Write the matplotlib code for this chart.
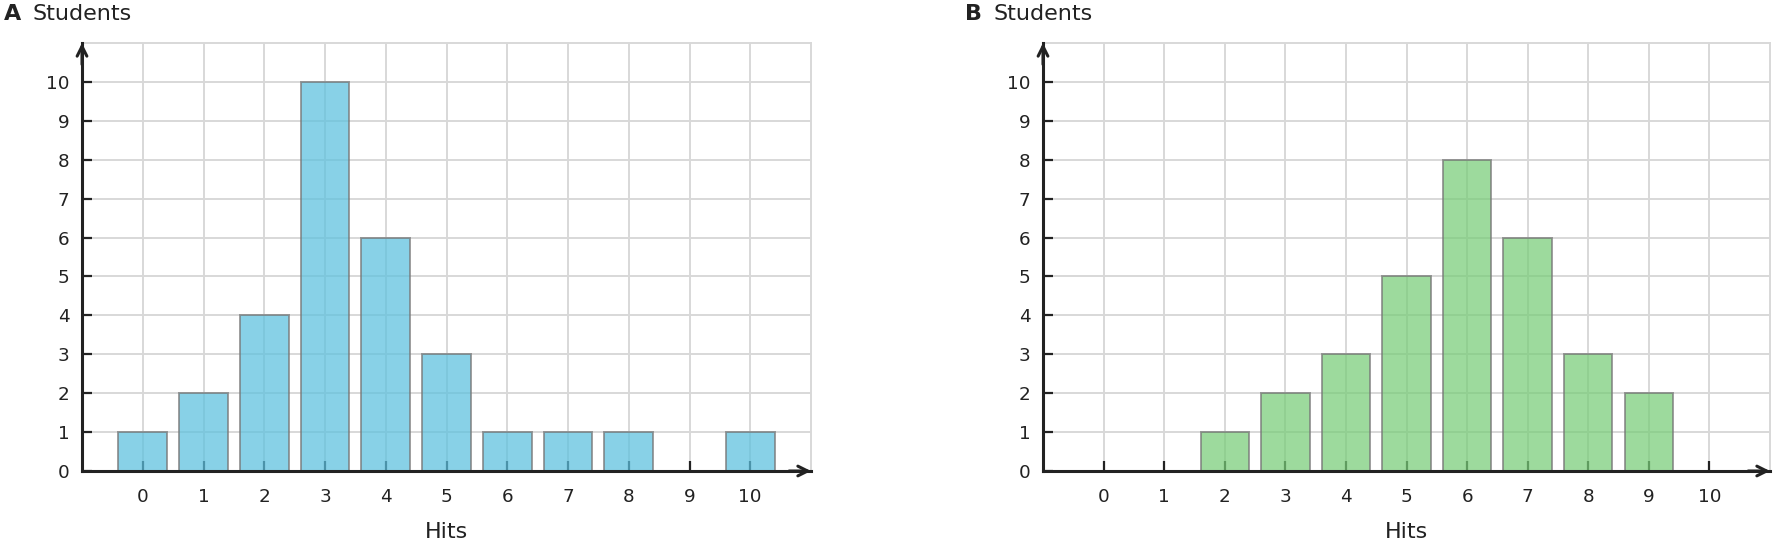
import matplotlib.pyplot as plt

hits = list(range(11))
students_a = [1, 2, 4, 10, 6, 3, 1, 1, 1, 0, 1]
students_b = [0, 0, 1, 2, 3, 5, 8, 6, 3, 2, 0]
y_ticks = list(range(11))

W, H = 1776, 548
fig = plt.figure(figsize=(W / 100, H / 100), dpi=100)

INK = '#222222'


def panel(left_px, right_px, values, color, letter):
    top_px, bottom_px = 43, 471
    ax = fig.add_axes([left_px / W, 1 - bottom_px / H,
                       (right_px - left_px) / W, (bottom_px - top_px) / H])
    ax.set_xlim(-1, 11)
    ax.set_ylim(0, 11)
    ax.set_axisbelow(True)
    ax.grid(True, color='#d8d8d8', linewidth=1.4)
    ax.bar(hits, values, width=0.8, color=color, alpha=0.72,
           edgecolor='#777777', linewidth=1.4, zorder=2)
    ax.set_xticks(hits)
    ax.set_yticks(y_ticks)
    ax.tick_params(axis='both', direction='in', length=7, width=1.6,
                   color=INK, labelsize=13.2, labelcolor=INK)
    ax.tick_params(axis='x', pad=12)
    ax.tick_params(axis='y', pad=9)
    for s in ['top', 'right']:
        ax.spines[s].set_color('#d8d8d8')
        ax.spines[s].set_linewidth(1.4)
    for s in ['left', 'bottom']:
        ax.spines[s].set_color(INK)
        ax.spines[s].set_linewidth(2.2)
        ax.spines[s].set_zorder(3)
    arrow = dict(arrowstyle='->,head_length=0.7,head_width=0.35',
                 color=INK, lw=2.2, shrinkA=0, shrinkB=0)
    ax.annotate('', xy=(1.0, 0), xytext=(0.97, 0), xycoords='axes fraction',
                arrowprops=arrow)
    ax.annotate('', xy=(0, 1.0), xytext=(0, 0.95), xycoords='axes fraction',
                arrowprops=arrow)
    ax.set_xlabel('Hits', fontsize=16, color=INK, labelpad=12)
    x0 = (left_px - 78) / W
    fig.text(x0, 1 - 14 / H, letter, fontsize=16, fontweight='bold',
             color=INK, va='center', ha='left')
    fig.text(x0 + 28 / W, 1 - 14 / H, 'Students', fontsize=16,
             color=INK, va='center', ha='left')
    return ax


panel(82, 811, students_a, '#5bc0de', 'A')
panel(1043, 1770, students_b, '#77cc77', 'B')

fig.savefig('out.png', dpi=100)
